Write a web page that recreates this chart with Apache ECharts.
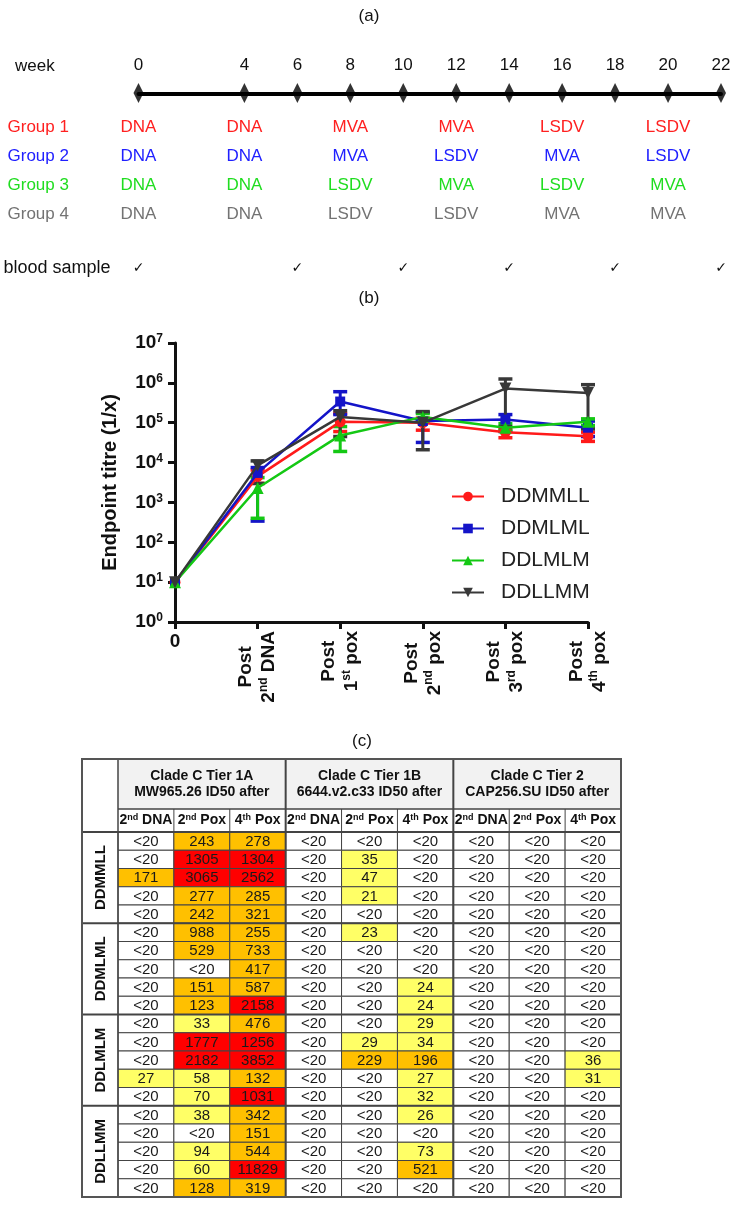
<!DOCTYPE html>
<html><head><meta charset="utf-8">
<script src="https://cdn.jsdelivr.net/npm/echarts@6/dist/echarts.min.js"></script>
<style>html,body{margin:0;padding:0;background:#fff}#c{width:738px;height:1207px}</style>
</head><body><div id="c"></div>
<script>
// ================= DATA =================
// (a) schedule
const weekTicks = [0, 4, 6, 8, 10, 12, 14, 16, 18, 20, 22];
const groupNames = ['Group 1', 'Group 2', 'Group 3', 'Group 4'];
const vaccWeeks = [0, 4, 8, 12, 16, 20];
const group1 = ['DNA', 'DNA', 'MVA', 'MVA', 'LSDV', 'LSDV'];
const group2 = ['DNA', 'DNA', 'MVA', 'LSDV', 'MVA', 'LSDV'];
const group3 = ['DNA', 'DNA', 'LSDV', 'MVA', 'LSDV', 'MVA'];
const group4 = ['DNA', 'DNA', 'LSDV', 'LSDV', 'MVA', 'MVA'];
const bloodWeeks = [0, 6, 10, 14, 18, 22];

// (b) endpoint titres
const timepoints = ['0', 'Post\n2nd DNA', 'Post\n1st pox', 'Post\n2nd pox', 'Post\n3rd pox', 'Post\n4th pox'];
const regimens = ['DDMMLL', 'DDMLML', 'DDLMLM', 'DDLLMM'];
const meanDDMMLL = [10, 4500, 105000, 100000, 58000, 46000];
const lowDDMMLL  = [10, 3000, 60000, 65000, 42000, 34000];
const highDDMMLL = [10, 6500, 170000, 130000, 72000, 58000];
const meanDDMLML = [10, 5500, 340000, 110000, 120000, 75000];
const lowDDMLML  = [10, 340, 160000, 32000, 60000, 45000];
const highDDMLML = [10, 7500, 600000, 180000, 160000, 110000];
const meanDDLMLM = [10, 2300, 48000, 140000, 75000, 105000];
const lowDDLMLM  = [10, 400, 19000, 110000, 62000, 85000];
const highDDLMLM = [10, 4200, 80000, 170000, 95000, 125000];
const meanDDLLMM = [10, 8500, 140000, 100000, 720000, 560000];
const lowDDLLMM  = [10, 3000, 45000, 21000, 80000, 70000];
const highDDLLMM = [10, 11000, 200000, 190000, 1250000, 900000];

// (c) neutralisation table
const tiers = ['Clade C Tier 1A\nMW965.26 ID50 after', 'Clade C Tier 1B\n6644.v2.c33 ID50 after', 'Clade C Tier 2\nCAP256.SU ID50 after'];
const subCols = ['2nd DNA', '2nd Pox', '4th Pox'];
const tableGroups = ['DDMMLL', 'DDMLML', 'DDLMLM', 'DDLLMM'];
const tableRows = [
  ['<20', '243', '278', '<20', '<20', '<20', '<20', '<20', '<20'],
  ['<20', '1305', '1304', '<20', '35', '<20', '<20', '<20', '<20'],
  ['171', '3065', '2562', '<20', '47', '<20', '<20', '<20', '<20'],
  ['<20', '277', '285', '<20', '21', '<20', '<20', '<20', '<20'],
  ['<20', '242', '321', '<20', '<20', '<20', '<20', '<20', '<20'],
  ['<20', '988', '255', '<20', '23', '<20', '<20', '<20', '<20'],
  ['<20', '529', '733', '<20', '<20', '<20', '<20', '<20', '<20'],
  ['<20', '<20', '417', '<20', '<20', '<20', '<20', '<20', '<20'],
  ['<20', '151', '587', '<20', '<20', '24', '<20', '<20', '<20'],
  ['<20', '123', '2158', '<20', '<20', '24', '<20', '<20', '<20'],
  ['<20', '33', '476', '<20', '<20', '29', '<20', '<20', '<20'],
  ['<20', '1777', '1256', '<20', '29', '34', '<20', '<20', '<20'],
  ['<20', '2182', '3852', '<20', '229', '196', '<20', '<20', '36'],
  ['27', '58', '132', '<20', '<20', '27', '<20', '<20', '31'],
  ['<20', '70', '1031', '<20', '<20', '32', '<20', '<20', '<20'],
  ['<20', '38', '342', '<20', '<20', '26', '<20', '<20', '<20'],
  ['<20', '<20', '151', '<20', '<20', '<20', '<20', '<20', '<20'],
  ['<20', '94', '544', '<20', '<20', '73', '<20', '<20', '<20'],
  ['<20', '60', '11829', '<20', '<20', '521', '<20', '<20', '<20'],
  ['<20', '128', '319', '<20', '<20', '<20', '<20', '<20', '<20']
];

// ================= STYLE / LAYOUT =================
const F = 'Liberation Sans';
const groupColors = ['#ff2020', '#2020ff', '#20dd20', '#737373'];
const serColors = ['#ff1a1a', '#1414c8', '#14c814', '#383838'];
const serSymbols = ['circle', 'rect', 'triangle', 'triangle'];
const serRotate = [0, 0, 0, 180];
const serSize = [11, 10, 12, 12];
const TB = {x0: 82, x1: 118, x2: 621, y0: 759, y1: 809, y2: 832, y3: 1197};
const cw = (TB.x2 - TB.x1) / 9, rh = (TB.y3 - TB.y2) / 20;
const lineCol = '#444';

function sup(s) { return s.replace(/(\d)(st|nd|rd|th)/g, '$1{s|$2}'); }
function cellColor(t) {
  if (t.charAt(0) === '<') return '#ffffff';
  const v = +t;
  if (v >= 1000) return '#ff0000';
  if (v >= 100) return '#ffc000';
  if (v >= 20) return '#ffff66';
  return '#ffffff';
}

const means = [meanDDMMLL, meanDDMLML, meanDDLMLM, meanDDLLMM];
const lows = [lowDDMMLL, lowDDMLML, lowDDLMLM, lowDDLLMM];
const highs = [highDDMMLL, highDDMLML, highDDLMLM, highDDLLMM];
const schedule = [group1, group2, group3, group4];

const series = [];
// error bars
regimens.forEach((name, si) => {
  const d = [];
  for (let i = 1; i < timepoints.length; i++) d.push([i, lows[si][i], highs[si][i]]);
  series.push({
    type: 'custom', xAxisIndex: 0, yAxisIndex: 0, z: 2 + si * 0.1, silent: true,
    encode: {x: 0, y: [1, 2]}, data: d,
    renderItem: function (params, api) {
      const x = api.value(0);
      const a = api.coord([x, api.value(1)]), b = api.coord([x, api.value(2)]);
      const w = 7, c = serColors[si];
      return {type: 'group', children: [
        {type: 'line', shape: {x1: a[0], y1: a[1], x2: b[0], y2: b[1]}, style: {stroke: c, lineWidth: 3}},
        {type: 'line', shape: {x1: a[0] - w, y1: a[1], x2: a[0] + w, y2: a[1]}, style: {stroke: c, lineWidth: 3.5}},
        {type: 'line', shape: {x1: b[0] - w, y1: b[1], x2: b[0] + w, y2: b[1]}, style: {stroke: c, lineWidth: 3.5}}
      ]};
    }
  });
});
// mean lines
regimens.forEach((name, si) => {
  series.push({
    type: 'line', name: name, xAxisIndex: 0, yAxisIndex: 0, z: 3 + si * 0.1,
    data: means[si], symbol: serSymbols[si], symbolRotate: serRotate[si], symbolSize: serSize[si],
    showAllSymbol: true,
    lineStyle: {color: serColors[si], width: 2.5},
    itemStyle: {color: serColors[si]},
    emphasis: {disabled: true}, animation: false
  });
});
// timeline diamonds
series.push({
  type: 'scatter', xAxisIndex: 2, yAxisIndex: 1, symbol: 'diamond', symbolSize: [10, 20],
  itemStyle: {color: '#000'}, data: weekTicks.map(w => [w, 1]), silent: true, z: 5
});
// schedule texts
const schedData = [];
schedule.forEach((g, gi) => g.forEach((v, k) => schedData.push([vaccWeeks[k], gi, k])));
series.push({
  type: 'custom', xAxisIndex: 3, yAxisIndex: 2, encode: {x: 0, y: 1}, data: schedData, silent: true,
  renderItem: function (params, api) {
    const p = api.coord([api.value(0), api.value(1)]);
    const gi = api.value(1), k = api.value(2);
    return {type: 'text', style: {text: schedule[gi][k], x: p[0], y: p[1], align: 'center', verticalAlign: 'middle',
      fontSize: 17, fontFamily: F, fill: groupColors[gi]}};
  }
});
// blood sample checks
series.push({
  type: 'custom', xAxisIndex: 4, yAxisIndex: 3, encode: {x: 0, y: 1}, data: bloodWeeks.map(w => [w, 0]), silent: true,
  renderItem: function (params, api) {
    const p = api.coord([api.value(0), api.value(1)]);
    return {type: 'text', style: {text: '\u2713', x: p[0], y: p[1], align: 'center', verticalAlign: 'middle',
      fontSize: 14, fontFamily: 'DejaVu Sans', fill: '#111'}};
  }
});
// table cells
const cellData = [];
tableRows.forEach((row, r) => row.forEach((t, c) => cellData.push([c, r])));
series.push({
  type: 'custom', xAxisIndex: 5, yAxisIndex: 4, encode: {x: 0, y: 1}, data: cellData, silent: true, z: 2,
  renderItem: function (params, api) {
    const c = api.value(0), r = api.value(1);
    const p = api.coord([c, r]), s = api.size([1, 1]);
    const t = tableRows[r][c];
    return {type: 'group', children: [
      {type: 'rect', shape: {x: p[0] - s[0] / 2, y: p[1] - s[1] / 2, width: s[0], height: s[1]},
        style: {fill: cellColor(t), stroke: lineCol, lineWidth: 1}},
      {type: 'text', style: {text: t, x: p[0], y: p[1] + 0.5, align: 'center', verticalAlign: 'middle',
        fontSize: 15, fontFamily: F, fill: '#1a1a1a'}}
    ]};
  }
});

// table graphic lines
const gLines = [];
function L(x1, y1, x2, y2, w) { gLines.push({type: 'line', z: 100, shape: {x1, y1, x2, y2}, style: {stroke: lineCol, lineWidth: w}}); }
L(TB.x1, TB.y1, TB.x2, TB.y1, 1.5);
L(TB.x0, TB.y2, TB.x2, TB.y2, 2);
L(TB.x1, TB.y0, TB.x1, TB.y3, 1.5);
[3, 6].forEach(k => L(TB.x1 + k * cw, TB.y0, TB.x1 + k * cw, TB.y3, 2));
[1, 2, 4, 5, 7, 8].forEach(k => L(TB.x1 + k * cw, TB.y1, TB.x1 + k * cw, TB.y2, 1));
[1, 2, 3].forEach(k => L(TB.x0, TB.y2 + 5 * k * rh, TB.x2, TB.y2 + 5 * k * rh, 2));

const titleText = (t, x, y) => ({type: 'text', x: x, y: y, z: 100,
  style: {text: t, align: 'center', verticalAlign: 'middle', fontSize: 17, fontFamily: F, fill: '#111'}});

const axisBlack = '#111';
const option = {
  animation: false,
  backgroundColor: '#fff',
  textStyle: {fontFamily: F},
  grid: [
    {left: 175, top: 343, width: 413, height: 279, outerBoundsMode: 'none'},
    {left: TB.x1, top: TB.y2, width: TB.x2 - TB.x1, height: TB.y3 - TB.y2, outerBoundsMode: 'none'},
    {left: 138.5, top: 93, width: 582.5, height: 1, outerBoundsMode: 'none'},
    {left: 138.5, top: 112.5, width: 582.5, height: 116, outerBoundsMode: 'none'},
    {left: 138.5, top: 258, width: 582.5, height: 20, outerBoundsMode: 'none'}
  ],
  legend: {
    data: regimens, orient: 'vertical', left: 446, top: 481, itemWidth: 32, itemHeight: 12, itemGap: 11,
    textStyle: {fontSize: 21, color: '#222', fontFamily: F, lineHeight: 21, padding: [0, 0, 0, 12]},
    selectedMode: false
  },
  xAxis: [
    {gridIndex: 0, type: 'category', position: 'bottom', data: timepoints, boundaryGap: false,
      axisLine: {lineStyle: {color: axisBlack, width: 3}},
      axisTick: {length: 7, lineStyle: {color: axisBlack, width: 3}, interval: 0},
      axisLabel: {interval: 0, margin: 10, fontSize: 19, fontWeight: 'bold', color: '#111', fontFamily: F,
        formatter: (v, i) => i === 0 ? v : ''},
      splitLine: {show: false}},
    {gridIndex: 0, type: 'category', position: 'bottom', data: timepoints, boundaryGap: false,
      axisLine: {show: false}, axisTick: {show: false}, splitLine: {show: false},
      axisLabel: {interval: 0, rotate: 90, margin: 9, fontSize: 19, fontWeight: 'bold', color: '#111', fontFamily: F, lineHeight: 23,
        formatter: (v, i) => {
          if (i === 0) return '';
          const parts = v.split('\n');
          return '{p|' + parts[0] + '}\n' + sup(parts[1]);
        },
        rich: {
          p: {align: 'center', fontSize: 19, fontWeight: 'bold', fontFamily: F, color: '#111', lineHeight: 23},
          s: {fontSize: 12, fontWeight: 'bold', fontFamily: F, color: '#111', verticalAlign: 'top', lineHeight: 12}
        }}},
    {gridIndex: 2, type: 'value', min: 0, max: 22, interval: 2, position: 'top',
      axisLine: {lineStyle: {color: '#000', width: 4}}, axisTick: {show: false}, splitLine: {show: false},
      axisLabel: {margin: 19, fontSize: 17, color: '#111', fontFamily: F,
        formatter: v => weekTicks.indexOf(v) >= 0 ? String(v) : ''}},
    {gridIndex: 3, type: 'value', min: 0, max: 22, show: false},
    {gridIndex: 4, type: 'value', min: 0, max: 22, show: false},
    {gridIndex: 1, type: 'category', position: 'top', data: Array.from({length: 9}, (_, i) => 'c' + i),
      axisLine: {show: false}, axisTick: {show: false}, splitLine: {show: false},
      axisLabel: {interval: 0, margin: 5, fontSize: 14, fontWeight: 'bold', color: '#111', fontFamily: F,
        formatter: (v, i) => sup(subCols[i % 3]),
        rich: {s: {fontSize: 9, fontWeight: 'bold', fontFamily: F, color: '#111', verticalAlign: 'top', lineHeight: 9}}}},
    {gridIndex: 1, type: 'category', position: 'top', offset: TB.y2 - TB.y1, data: tiers,
      axisLine: {show: false}, axisTick: {show: false}, splitLine: {show: false},
      axisLabel: {interval: 0, margin: 9, fontSize: 14, fontWeight: 'bold', color: '#111', fontFamily: F, lineHeight: 16}}
  ],
  yAxis: [
    {gridIndex: 0, type: 'log', logBase: 10, min: 1, max: 1e7,
      axisLine: {show: true, lineStyle: {color: axisBlack, width: 3}},
      axisTick: {show: true, length: 7, lineStyle: {color: axisBlack, width: 3}},
      minorTick: {show: false}, splitLine: {show: false}, minorSplitLine: {show: false},
      axisLabel: {margin: 12, fontSize: 19, fontWeight: 'bold', color: '#111', fontFamily: F, lineHeight: 20,
        formatter: v => '10{s|' + Math.round(Math.log10(v)) + '}',
        rich: {s: {fontSize: 12, fontWeight: 'bold', fontFamily: F, color: '#111', verticalAlign: 'top', lineHeight: 12}}},
      name: 'Endpoint titre (1/x)', nameLocation: 'middle', nameRotate: 90, nameGap: 55,
      nameTextStyle: {fontSize: 20, fontWeight: 'bold', color: '#111', fontFamily: F}},
    {gridIndex: 2, type: 'value', min: 0, max: 1, show: false},
    {gridIndex: 3, type: 'category', data: groupNames, inverse: true,
      axisLine: {show: false}, axisTick: {show: false}, splitLine: {show: false},
      axisLabel: {interval: 0, align: 'left', margin: 131, fontSize: 17, fontFamily: F,
        color: (v, i) => groupColors[i != null ? i : groupNames.indexOf(v)]}},
    {gridIndex: 4, type: 'category', data: ['blood sample'],
      axisLine: {show: false}, axisTick: {show: false}, splitLine: {show: false},
      axisLabel: {interval: 0, align: 'left', margin: 135, fontSize: 18, fontFamily: F, color: '#111'}},
    {gridIndex: 1, type: 'category', data: tableRows.map((_, i) => 'r' + i), inverse: true, show: false},
    {gridIndex: 1, type: 'category', data: tableGroups, inverse: true, position: 'left',
      axisLine: {show: false}, axisTick: {show: false}, splitLine: {show: false},
      axisLabel: {interval: 0, rotate: 90, margin: 10, fontSize: 15, fontWeight: 'bold', color: '#111', fontFamily: F}}
  ],
  graphic: [
    {type: 'rect', z: -1, shape: {x: TB.x1, y: TB.y0, width: TB.x2 - TB.x1, height: TB.y1 - TB.y0}, style: {fill: '#f2f2f2'}},
    {type: 'rect', z: 101, shape: {x: TB.x0, y: TB.y0, width: TB.x2 - TB.x0, height: TB.y3 - TB.y0}, style: {fill: 'none', stroke: '#555', lineWidth: 2}},
    ...gLines,
    titleText('(a)', 369, 16),
    titleText('(b)', 369, 298),
    titleText('(c)', 362, 741),
    {type: 'text', x: 15, y: 66, style: {text: 'week', align: 'left', verticalAlign: 'middle', fontSize: 17, fontFamily: F, fill: '#111'}}
  ],
  series: series
};
const chart = echarts.init(document.getElementById('c'));
chart.setOption(option);
</script>
</body></html>
